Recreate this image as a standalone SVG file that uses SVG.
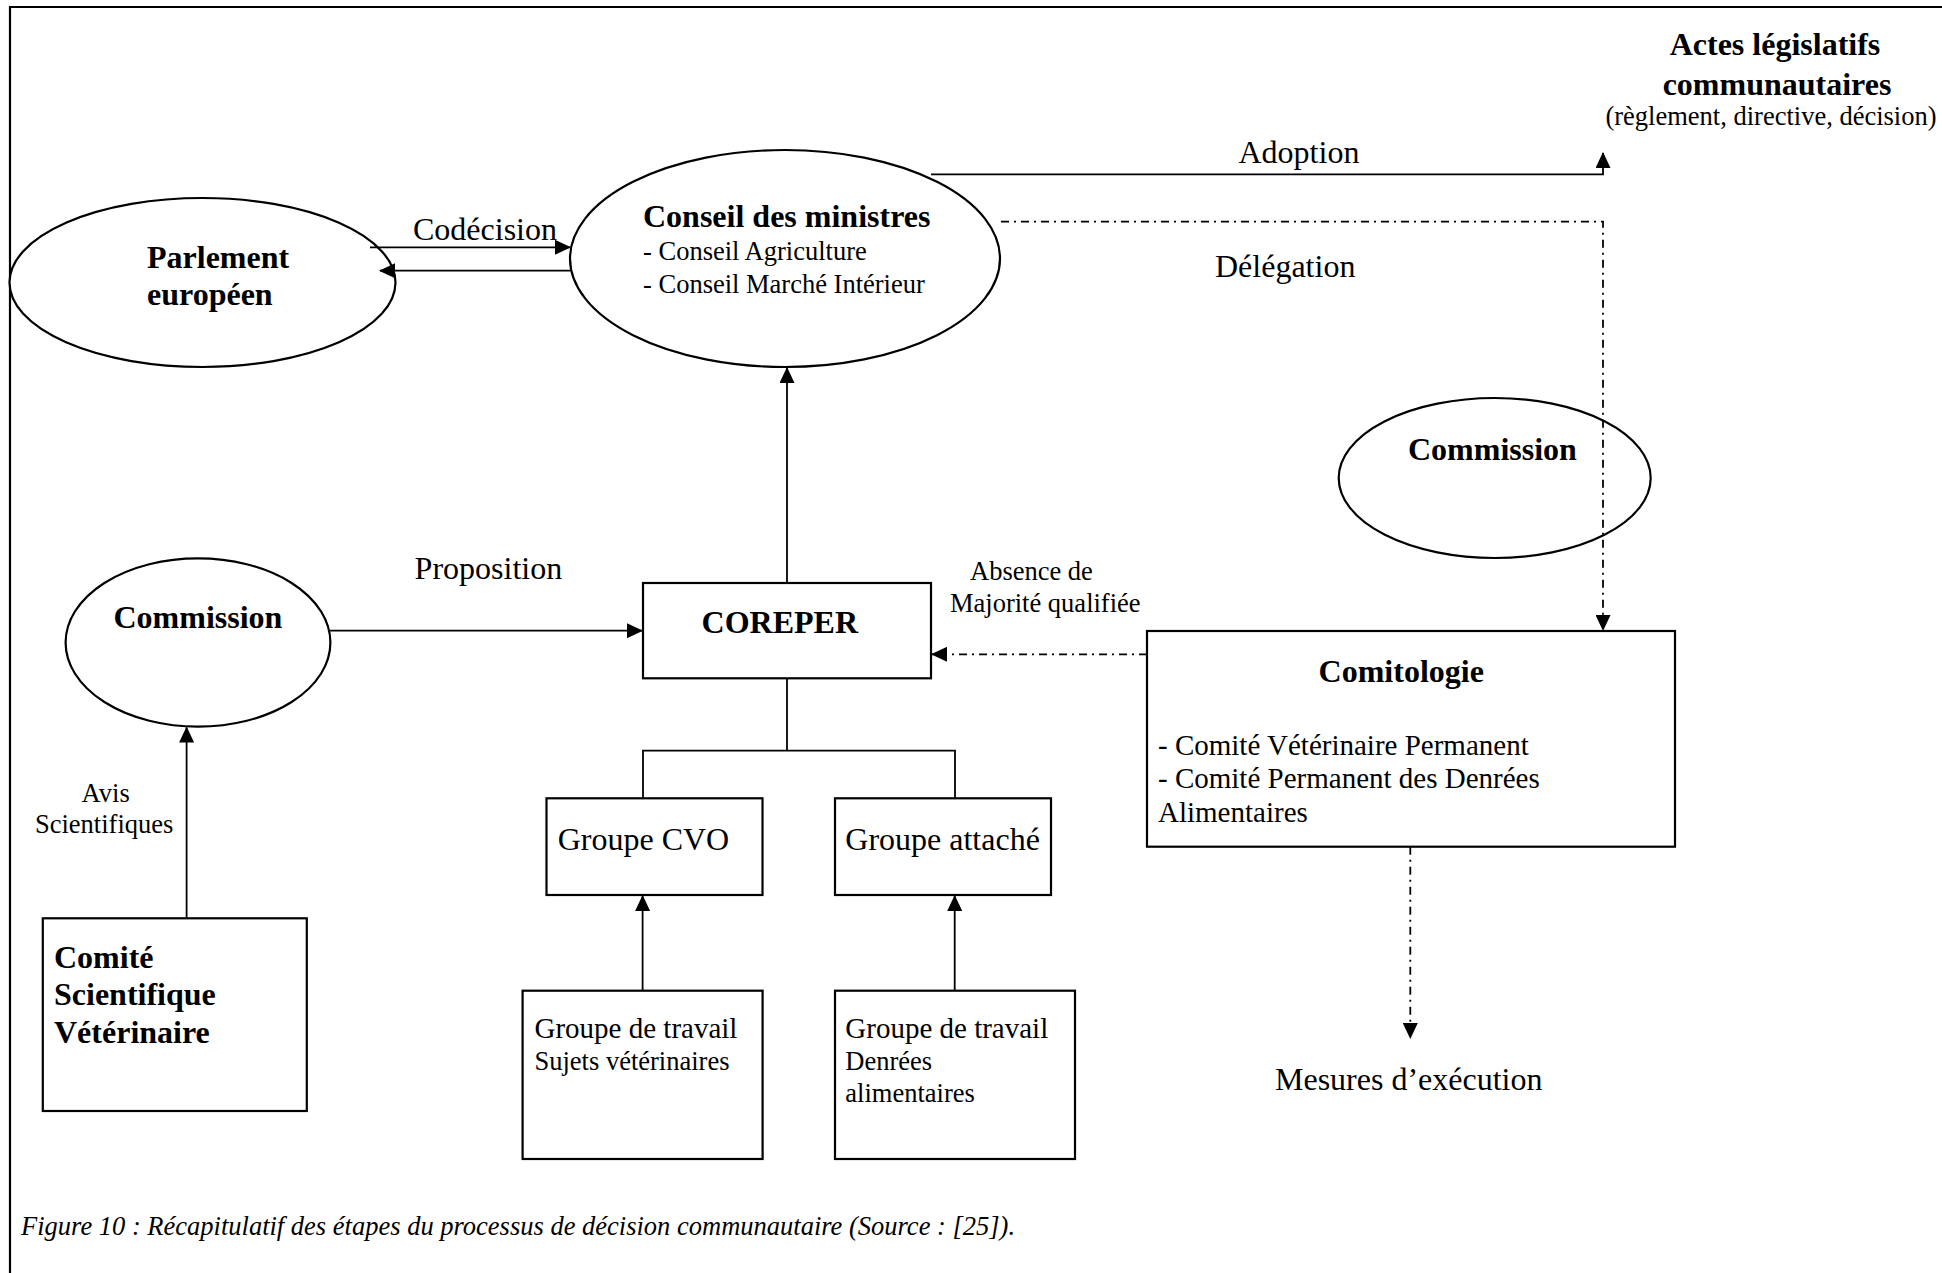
<svg xmlns="http://www.w3.org/2000/svg" width="1942" height="1273" viewBox="0 0 1942 1273">
<style>
text{font-family:"Liberation Serif","Times New Roman",serif;fill:#000}
.b{font-weight:bold;font-size:32px}
.l{font-size:32px}
.m{font-size:29px}
.s{font-size:26.5px}
.cap{font-size:26.5px;font-style:italic}
.shape{fill:#fff;stroke:#000;stroke-width:2.2}
.c{fill:none;stroke:#000;stroke-width:1.8}
.dd{stroke-dasharray:8 5 2 5}
</style>
<defs>
<marker id="arr" markerUnits="userSpaceOnUse" markerWidth="16" markerHeight="15" refX="15" refY="7.5" orient="auto">
<path d="M0,0 L16,7.5 L0,15 z" fill="#000"/>
</marker>
</defs>
<rect width="1942" height="1273" fill="#fff"/>
<path d="M10 1273 V7 H1942" fill="none" stroke="#000" stroke-width="2.2"/>

<g id="parlement">
<ellipse class="shape" cx="202.5" cy="282.5" rx="193" ry="84.5"/>
<text class="b" x="147" y="268">Parlement</text>
<text class="b" x="147" y="305">européen</text>
</g>

<g id="conseil">
<ellipse class="shape" cx="785" cy="258.5" rx="215" ry="108.5"/>
<text class="b" x="643" y="227">Conseil des ministres</text>
<text class="s" x="643" y="260">- Conseil Agriculture</text>
<text class="s" x="643" y="293">- Conseil Marché Intérieur</text>
</g>

<g id="actes">
<text class="b" x="1775" y="55" text-anchor="middle">Actes législatifs</text>
<text class="b" x="1777" y="95" text-anchor="middle">communautaires</text>
<text class="s" x="1771" y="125" text-anchor="middle">(règlement, directive, décision)</text>
</g>

<g id="commission-right">
<ellipse class="shape" cx="1494.7" cy="478" rx="156" ry="80"/>
<text class="b" x="1408" y="460">Commission</text>
</g>

<g id="commission-left">
<ellipse class="shape" cx="198" cy="642.5" rx="132.4" ry="84.2"/>
<text class="b" x="113.5" y="628">Commission</text>
</g>

<g id="coreper">
<rect class="shape" x="643" y="583" width="288" height="95.3"/>
<text class="b" x="701.6" y="633">COREPER</text>
</g>

<g id="comitologie">
<rect class="shape" x="1147" y="631" width="528" height="215.7"/>
<text class="b" x="1318.6" y="682">Comitologie</text>
<text class="m" x="1158" y="755">- Comité Vétérinaire Permanent</text>
<text class="m" x="1158" y="788">- Comité Permanent des Denrées</text>
<text class="m" x="1158" y="822">Alimentaires</text>
</g>

<g id="groupe-cvo">
<rect class="shape" x="546.5" y="798.3" width="216" height="96.7"/>
<text class="l" x="557.7" y="850">Groupe CVO</text>
</g>

<g id="groupe-attache">
<rect class="shape" x="835" y="798.3" width="216" height="96.7"/>
<text class="l" x="845.3" y="850">Groupe attaché</text>
</g>

<g id="gt-veterinaire">
<rect class="shape" x="522.6" y="990.7" width="240" height="168.3"/>
<text class="m" x="534.5" y="1038">Groupe de travail</text>
<text class="s" x="534.5" y="1070">Sujets vétérinaires</text>
</g>

<g id="gt-denrees">
<rect class="shape" x="835" y="990.7" width="240" height="168.3"/>
<text class="m" x="845.3" y="1038">Groupe de travail</text>
<text class="s" x="845.3" y="1070">Denrées</text>
<text class="s" x="845.3" y="1102">alimentaires</text>
</g>

<g id="comite-scientifique">
<rect class="shape" x="42.8" y="918.3" width="264" height="192.7"/>
<text class="b" x="54" y="968">Comité</text>
<text class="b" x="54" y="1005">Scientifique</text>
<text class="b" x="54" y="1043">Vétérinaire</text>
</g>

<g id="mesures">
<text class="l" x="1275" y="1090">Mesures d’exécution</text>
</g>

<g id="connectors">
<path class="c" d="M370 247.3 H570" marker-end="url(#arr)"/>
<path class="c" d="M570.7 270.7 H380" marker-end="url(#arr)"/>
<path class="c" d="M931 174.3 H1603 V153" marker-end="url(#arr)"/>
<path class="c dd" d="M1001 221.7 H1603 V630" marker-end="url(#arr)"/>
<path class="c" d="M787 583 V368" marker-end="url(#arr)"/>
<path class="c" d="M330 630.7 H642" marker-end="url(#arr)"/>
<path class="c dd" d="M1147 654.3 H932" marker-end="url(#arr)"/>
<path class="c" d="M787 678.3 V750.7"/>
<path class="c" d="M643 798.3 V750.7 H955 V798.3"/>
<path class="c" d="M642.6 990.7 V896" marker-end="url(#arr)"/>
<path class="c" d="M954.7 990.7 V896" marker-end="url(#arr)"/>
<path class="c" d="M186.6 918.3 V727.5" marker-end="url(#arr)"/>
<path class="c dd" d="M1410.3 846.7 V1038" marker-end="url(#arr)"/>
</g>

<g id="labels">
<text class="l" x="413" y="240">Codécision</text>
<text class="l" x="1238.5" y="163">Adoption</text>
<text class="l" x="1215" y="277">Délégation</text>
<text class="l" x="414.6" y="579">Proposition</text>
<text class="s" x="970" y="580">Absence de</text>
<text class="s" x="950" y="612">Majorité qualifiée</text>
<text class="s" x="81.6" y="802">Avis</text>
<text class="s" x="35" y="833">Scientifiques</text>
</g>

<text class="cap" x="21" y="1235">Figure 10 : Récapitulatif des étapes du processus de décision communautaire (Source : [25]).</text>
</svg>
